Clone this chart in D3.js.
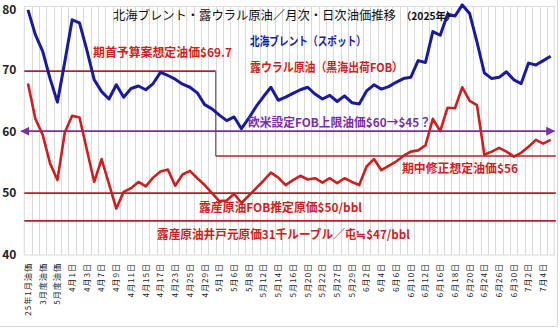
<!DOCTYPE html>
<html>
<head>
<meta charset="utf-8">
<script src="https://cdn.jsdelivr.net/npm/d3@7"></script>
<style>
  html, body { margin: 0; padding: 0; background: #fff; }
  svg { display: block; }
  text { font-family: "Noto Sans CJK JP", "Noto Sans", sans-serif; }
</style>
</head>
<body>
<svg id="chart" width="560" height="328"></svg>
<script>
// Categories: monthly averages followed by daily quotes
const categories = [
  "25年1月油価", "2月度油価", "3月度油価", "4月度油価", "5月度油価", "6月度油価",
  "4月1日", "4月2日", "4月3日", "4月4日", "4月7日", "4月8日", "4月9日", "4月10日",
  "4月11日", "4月14日", "4月15日", "4月16日", "4月17日", "4月22日", "4月23日", "4月24日",
  "4月25日", "4月28日", "4月29日", "4月30日", "5月1日", "5月2日", "5月6日", "5月7日",
  "5月8日", "5月9日", "5月12日", "5月13日", "5月14日", "5月15日", "5月16日", "5月19日",
  "5月20日", "5月21日", "5月22日", "5月23日", "5月27日", "5月28日", "5月29日", "5月30日",
  "6月2日", "6月3日", "6月4日", "6月5日", "6月6日", "6月9日", "6月10日", "6月11日",
  "6月12日", "6月13日", "6月16日", "6月17日", "6月18日", "6月19日", "6月20日", "6月23日",
  "6月24日", "6月25日", "6月26日", "6月27日", "6月30日", "7月1日", "7月2日", "7月3日",
  "7月4日", "7月7日"
];

// North Sea Brent (spot), $/bbl
const brent = [
  79.6, 75.6, 72.9, 68.5, 64.7, 71.2, 78.0, 77.5, 73.1, 68.3, 66.4, 65.2,
  67.5, 65.5, 66.9, 67.3, 66.7, 67.7, 69.5, 69.0, 68.4, 67.6, 67.1, 66.2,
  64.3, 63.6, 62.6, 61.7, 62.3, 60.4, 62.1, 64.0, 65.6, 67.1, 65.0, 65.5,
  66.1, 66.7, 67.1, 66.0, 65.2, 65.8, 64.8, 65.7, 64.6, 64.4, 66.5, 67.5,
  66.8, 67.2, 67.9, 68.5, 68.7, 71.4, 71.1, 76.1, 75.5, 78.9, 78.6, 80.4,
  79.0, 74.4, 69.4, 68.5, 68.7, 69.6, 68.3, 67.7, 71.0, 70.7, 71.4, 72.1
];

// Russian Urals (Black Sea FOB), $/bbl
const urals = [
  67.7, 62.0, 59.4, 54.8, 52.1, 59.8, 62.5, 62.2, 57.0, 51.8, 55.5, 51.5,
  47.5, 50.2, 50.8, 51.8, 51.1, 52.5, 53.5, 53.8, 51.2, 53.0, 53.6, 52.4,
  51.3, 50.0, 48.7, 48.8, 49.9, 48.4, 49.6, 50.8, 52.0, 53.3, 52.5, 51.3,
  52.1, 52.8, 52.2, 52.4, 51.7, 52.4, 51.6, 52.4, 51.8, 51.3, 54.3, 55.5,
  53.7, 54.4, 55.1, 56.0, 56.7, 56.9, 57.7, 62.0, 60.0, 63.8, 63.7, 67.1,
  64.9, 64.2, 56.2, 56.7, 57.3, 56.7, 55.9, 56.5, 57.5, 58.6, 58.0, 58.6
];

const yTicks = [40, 50, 60, 70, 80];

// Reference price levels
const budgetLevel = 69.7;      // initial budget assumption
const revisedLevel = 56;       // revised assumption
const revisionCategory = "5月1日";
const capLevel = 60;           // G7/EU price cap
const fobCostLevel = 50;       // estimated FOB cost
const wellheadLevel = 45.5;    // wellhead cost line

const svg = d3.select("#chart");

const plot = { left: 24.3, right: 554.3, top: 7.4, bottom: 255 };

const x = d3.scaleBand().domain(categories).range([plot.left, plot.right]).padding(0);
const bw = x.bandwidth();
const cx = c => x(c) + bw / 2;
const y = d3.scaleLinear().domain([40, 80]).range([plot.bottom, plot.top]);

const RED = "#cc1f1f";
const REF_RED = "#b3202a";
const BLUE = "#1a1a9e";
const PURPLE = "#7a2fa8";

// outer frame (right and bottom edges)
svg.append("line").attr("x1", 557.5).attr("x2", 557.5).attr("y1", 0).attr("y2", 326.5)
  .attr("stroke", "#d6d6d6");
svg.append("line").attr("x1", 0).attr("x2", 557.5).attr("y1", 326.5).attr("y2", 326.5)
  .attr("stroke", "#d6d6d6");

// vertical gridlines at band boundaries
svg.append("g").selectAll("line")
  .data(categories.slice(1))
  .join("line")
  .attr("x1", d => Math.round(x(d)) + 0.5)
  .attr("x2", d => Math.round(x(d)) + 0.5)
  .attr("y1", plot.top - 1)
  .attr("y2", plot.bottom)
  .attr("stroke", "#d9d9d9")
  .attr("stroke-width", 1);

// plot frame
svg.append("rect")
  .attr("x", plot.left).attr("y", plot.top - 1)
  .attr("width", plot.right - plot.left).attr("height", plot.bottom - plot.top + 1)
  .attr("fill", "none").attr("stroke", "#d9d9d9");

// y axis
const yAxis = d3.axisLeft(y).tickValues(yTicks).tickSize(0).tickPadding(0).tickFormat(d3.format("d"));
const yg = svg.append("g").attr("transform", `translate(${plot.left - 8},0)`).call(yAxis);
yg.select(".domain").remove();
yg.selectAll("text")
  .attr("font-family", "Liberation Sans, Arial, sans-serif")
  .attr("font-weight", "bold")
  .attr("font-size", 12)
  .attr("fill", "#222");
// keep the top tick label inside the picture
yg.selectAll(".tick").filter(d => d === 80).select("text").attr("dy", "0.5em");

// x axis: every other category labelled, text running bottom-to-top
const xAxis = d3.axisBottom(x)
  .tickValues(categories.filter((d, i) => i % 2 === 0))
  .tickSize(0).tickPadding(0);
const xg = svg.append("g").attr("transform", `translate(0,${plot.bottom})`).call(xAxis);
xg.select(".domain").remove();
xg.selectAll("text")
  .attr("transform", "rotate(-90)")
  .attr("text-anchor", "end")
  .attr("x", -8)
  .attr("y", 0)
  .attr("dy", "0.35em")
  .attr("font-size", 8.2)
  .attr("letter-spacing", 0.9)
  .attr("fill", "#222");

// reference lines
const refG = svg.append("g");
const xBreak = x(revisionCategory);
refG.append("line")
  .attr("x1", plot.left).attr("x2", xBreak)
  .attr("y1", y(budgetLevel)).attr("y2", y(budgetLevel))
  .attr("stroke", REF_RED).attr("stroke-width", 1.6);
refG.append("line")
  .attr("x1", xBreak).attr("x2", xBreak)
  .attr("y1", y(budgetLevel)).attr("y2", y(revisedLevel))
  .attr("stroke", "#8f6b6b").attr("stroke-width", 1.4);
refG.append("line")
  .attr("x1", xBreak).attr("x2", plot.right + 1.5)
  .attr("y1", y(revisedLevel)).attr("y2", y(revisedLevel))
  .attr("stroke", REF_RED).attr("stroke-width", 1.6);
[fobCostLevel, wellheadLevel].forEach(v => {
  refG.append("line")
    .attr("x1", plot.left).attr("x2", plot.right + 1.5)
    .attr("y1", y(v)).attr("y2", y(v))
    .attr("stroke", REF_RED).attr("stroke-width", 1.8);
});

// price cap: double-headed arrow
const defs = svg.append("defs");
defs.append("marker")
  .attr("id", "capArrow")
  .attr("viewBox", "0 0 10 10")
  .attr("refX", 9).attr("refY", 5)
  .attr("markerWidth", 5).attr("markerHeight", 5)
  .attr("markerUnits", "strokeWidth")
  .attr("orient", "auto-start-reverse")
  .append("path").attr("d", "M0,0 L10,5 L0,10 z").attr("fill", PURPLE);
refG.append("line")
  .attr("x1", plot.left - 3).attr("x2", plot.right)
  .attr("y1", y(capLevel)).attr("y2", y(capLevel))
  .attr("stroke", PURPLE).attr("stroke-width", 1.8)
  .attr("marker-start", "url(#capArrow)")
  .attr("marker-end", "url(#capArrow)");

// price series
const line = d3.line().x((d, i) => cx(categories[i])).y(d => y(d));
svg.append("path").datum(urals)
  .attr("d", line).attr("fill", "none")
  .attr("stroke", RED).attr("stroke-width", 2.6).attr("stroke-linejoin", "round");
svg.append("path").datum(brent)
  .attr("d", line).attr("fill", "none")
  .attr("stroke", BLUE).attr("stroke-width", 3).attr("stroke-linejoin", "round");

// title, with the year in a smaller bold face
svg.append("text").attr("x", 113).attr("y", 20).attr("fill", "#111")
  .attr("font-size", 12.3)
  .text("北海ブレント・露ウラル原油／月次・日次油価推移");
svg.append("text").attr("x", 401).attr("y", 20).attr("fill", "#111")
  .attr("font-size", 10.3).attr("font-weight", "bold")
  .text("（2025年）");

// annotations
const notes = [
  { t: "北海ブレント（スポット）", x0: 250, x1: 366, y: 46, c: BLUE },
  { t: "露ウラル原油（黒海出荷FOB）", x0: 250, x1: 403, y: 72, c: RED },
  { t: "期首予算案想定油価$69.7", x0: 93, x1: 232, y: 57, c: RED },
  { t: "欧米設定FOB上限油価$60→$45？", x0: 248, x1: 431, y: 127, c: PURPLE },
  { t: "期中修正想定油価$56", x0: 402, x1: 518, y: 173, c: RED },
  { t: "露産原油FOB推定原価$50/bbl", x0: 199, x1: 362, y: 212, c: RED },
  { t: "露産原油井戸元原価31千ルーブル／屯≒$47/bbl", x0: 157, x1: 410, y: 239, c: RED }
];
svg.append("g").selectAll("text")
  .data(notes)
  .join("text")
  .attr("x", d => d.x0)
  .attr("y", d => d.y)
  .attr("font-size", 12)
  .attr("font-weight", "bold")
  .attr("fill", d => d.c)
  .attr("textLength", d => d.x1 - d.x0)
  .attr("lengthAdjust", "spacingAndGlyphs")
  .text(d => d.t);
</script>
</body>
</html>
